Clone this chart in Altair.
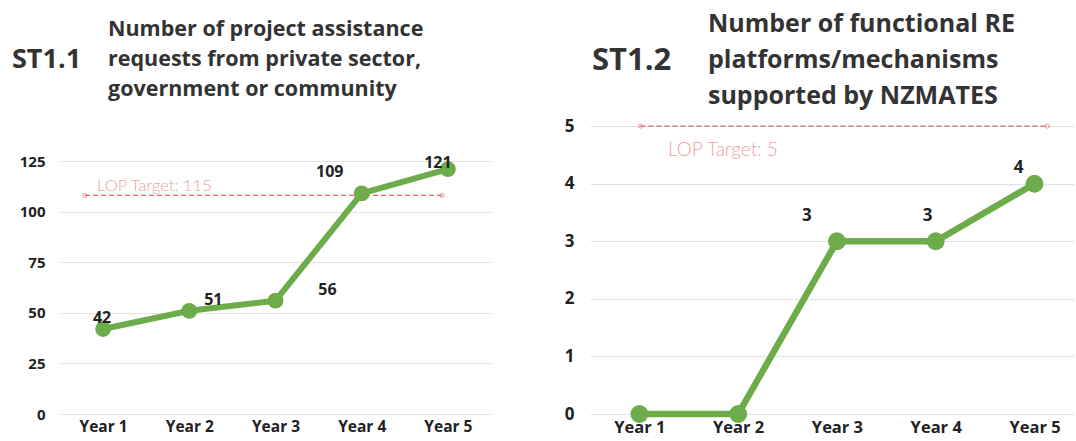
import altair as alt
import pandas as pd

# ---------------- data ----------------
years = [1, 2, 3, 4, 5]
year_prefix = "Year "

st11_code = "ST1.1"
st11_title = ["Number of project assistance", "requests from private sector,", "government or community"]
st11_values = [42, 51, 56, 109, 121]
st11_ticks = [0, 25, 50, 75, 100, 125]
st11_target_text = "LOP Target: 115"
st11_target_level = 108          # where the dashed target line is drawn in the picture
st11_target_span = [0.79, 4.93]  # x extent of the dashed target line (year units)

st12_code = "ST1.2"
st12_title = ["Number of functional RE", "platforms/mechanisms", "supported by NZMATES"]
st12_values = [0, 0, 3, 3, 4]
st12_labelled_years = [3, 4, 5]
st12_ticks = [0, 1, 2, 3, 4, 5]
st12_target_text = "LOP Target: 5"
st12_target_level = 5
st12_target_span = [1.01, 5.13]

# ---------------- style ----------------
GREEN = "#6cac4a"
RED = "#e06464"
PINK = "#eba2a2"
DARK = "#222222"
TITLE = "#333333"
FONT = "Open Sans"
one = pd.DataFrame({"k": [0]})


def panel(values, ticks, ydomain, xdomain, width, height, target_level, target_span,
          target_text, target_text_pos, target_size, label_years, label_offsets, code,
          code_pos, code_size, title_lines, title_pos, title_size, title_lh, lab_size,
          xaxis_size, yaxis_size, ypad, line_w, pt_size, anchor=False):
    df = pd.DataFrame({"year": years, "value": values})
    x = alt.X("year:Q", scale=alt.Scale(domain=xdomain, nice=False, zero=False),
              axis=alt.Axis(values=years, labelExpr="'" + year_prefix + "' + datum.value",
                            grid=False, domain=False, ticks=False, labelFlush=False,
                            labelOverlap=False, labelPadding=5, labelFontSize=xaxis_size,
                            labelFontWeight="bold", labelColor=DARK, labelFont=FONT, title=None))
    y = alt.Y("value:Q", scale=alt.Scale(domain=ydomain, nice=False, zero=True),
              axis=alt.Axis(values=ticks, grid=True, gridColor="#e3e3e3", gridWidth=1.2,
                            domain=False, ticks=False, labelPadding=ypad,
                            labelFontSize=yaxis_size, labelFontWeight="bold",
                            labelColor=DARK, labelFont=FONT, title=None))
    base = alt.Chart(df)
    tdf = pd.DataFrame({"year": target_span, "value": [target_level, target_level]})
    target = alt.Chart(tdf).mark_line(color=RED, strokeWidth=1.2, strokeDash=[5, 3]).encode(x=x, y=y)
    target_pts = alt.Chart(tdf).mark_point(shape="circle", filled=False, color=RED,
                                           size=16, strokeWidth=1).encode(x=x, y=y)
    target_lbl = alt.Chart(one).mark_text(text=target_text, align="left", baseline="middle",
                                          font="Lato", fontWeight=300, fontSize=target_size,
                                          color=PINK).encode(
        x=alt.value(target_text_pos[0]), y=alt.value(target_text_pos[1]))
    line = base.mark_line(color=GREEN, strokeWidth=line_w).encode(x=x, y=y)
    pts = base.mark_circle(color=GREEN, opacity=1, size=pt_size).encode(x=x, y=y)
    layers = [target, target_pts, target_lbl, line, pts]
    for yr, (dx, dy) in zip(label_years, label_offsets):
        sub = df[df["year"] == yr]
        layers.append(alt.Chart(sub).mark_text(dx=dx, dy=dy, font=FONT, fontWeight="bold",
                                               fontSize=lab_size, color=DARK,
                                               baseline="middle", align="center").encode(
            x=x, y=y, text=alt.Text("value:Q")))
    layers.append(alt.Chart(one).mark_text(text=code, align="left", baseline="alphabetic",
                                           font=FONT, fontWeight="bold", fontSize=code_size,
                                           color=TITLE).encode(
        x=alt.value(code_pos[0]), y=alt.value(code_pos[1])))
    layers.append(alt.Chart(one).mark_text(text=title_lines, align="left", baseline="alphabetic",
                                           font=FONT, fontWeight="bold", fontSize=title_size,
                                           lineHeight=title_lh, color=TITLE).encode(
        x=alt.value(title_pos[0]), y=alt.value(title_pos[1])))
    if anchor:
        layers.append(alt.Chart(one).mark_rule(opacity=0, strokeWidth=0.5).encode(
            x=alt.value(-60), x2=alt.value(-59), y=alt.value(-125), y2=alt.value(-124)))
    return alt.layer(*layers).properties(width=width, height=height)


left = panel(st11_values, st11_ticks, [0, 142.8], [0.5, 5.5], 431, 289,
             st11_target_level, st11_target_span, st11_target_text, (37, 61), 16.5,
             years, [(-1, -11), (24, -11), (52, -11), (-32, -21), (-10, -6)],
             st11_code, (-48, -57), 27, st11_title, (48, -89), 21.5, 30,
             16, 15.5, 15, 15, 6, 250, anchor=True)

right = panel(st12_values, st12_ticks, [0, 5.02], [0.5, 5.4], 484, 289,
              st12_target_level, st12_target_span, st12_target_text, (78, 25), 19,
              st12_labelled_years, [(-30, -25), (-8, -25), (-16, -16)],
              st12_code, (2, -55), 31, st12_title, (118, -93), 25, 36,
              17, 16.5, 17, 16, 6.5, 320)

chart = alt.hconcat(left, right, spacing=99, bounds="flush").properties(
    padding=0, background="white"
).configure_view(stroke=None)

chart.save("out.html", embed_options={"renderer": "svg", "actions": False})
